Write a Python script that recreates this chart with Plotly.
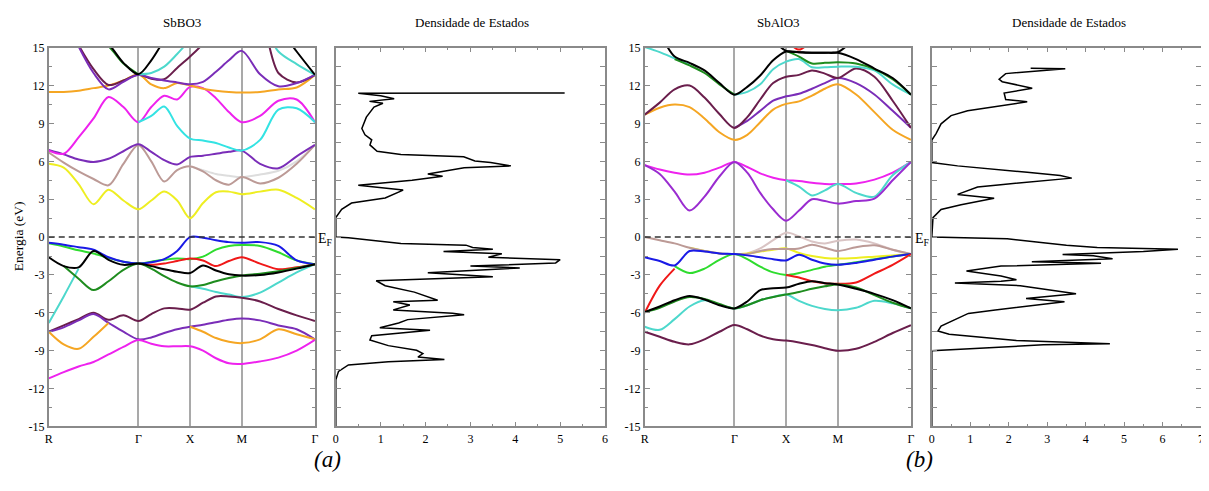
import plotly.graph_objects as go

# ---------------- k-path (R - Gamma - X - M - Gamma) ----------------
K = [0.0, 0.289, 0.577, 0.866, 1.155, 1.443, 1.732,
     1.982, 2.232, 2.482, 2.732,
     2.982, 3.232, 3.482, 3.732,
     4.085, 4.439, 4.792, 5.146]
KTICKS = [0.0, 1.732, 2.732, 3.732, 5.146]
KLABELS = ["R", "Γ", "X", "M", "Γ"]
N = None

# ---------------- SbBO3 bands (eV) ----------------
A_GREY = [N]*10 + [5.6, 5.3, 5.0, 4.85, 4.75, 4.95, 5.25, 6.0, 7.3]
A_BROWN = [6.7, 5.9, 5.2, 4.6, 4.1, 5.8, 7.3, 6.0, 4.4, 5.3, 5.6, 5.2, 4.5, 4.15, 4.75, 4.25, 4.7, 5.8, 7.3]
A_YELLOW = [5.8, 5.5, 4.2, 2.6, 3.75, 2.9, 2.2, 2.9, 3.6, 2.9, 1.5, 2.7, 3.55, 3.6, 3.4, 3.6, 3.75, 3.1, 2.2]
A_INDIGO = [6.9, 6.55, 6.15, 5.95, 6.2, 6.8, 7.35, 6.75, 6.1, 5.75, 6.35, 6.45, 6.6, 6.75, 6.85, 5.8, 5.45, 6.4, 7.3]
A_MAGENTA_C = [6.85, 6.6, 7.9, 9.4, 11.1, 10.3, 9.1, 10.3, 11.2, 10.9, 11.9, 11.8, 11.0, 9.9, 9.1, 9.6, 10.8, 10.9, 9.1]
A_CYAN_C = [N]*6 + [9.1, 9.6, 10.35, 8.8, 7.8, 7.65, 7.45, 7.1, 6.85, 7.7, 10.1, 10.2, 9.1]
A_ORANGE_C = [11.5, 11.5, 11.6, 11.8, 12.0, 12.4, 12.9, 12.1, 11.8, 12.2, 12.0, 11.75, 11.6, 11.5, 11.45, 11.5, 11.7, 11.85, 12.85]
A_MAROON_C = [N, N, 15.2, 13.3, 12.05, 12.4, 12.85, 12.55, 12.5, 13.4, 14.3, 15.3, 16.5, 17, 17, 17, 13.0, 12.25, 12.85]
A_VIOLET_C = [N, N, 15.1, 13.0, 11.7, 12.3, 12.85, 12.6, 12.4, 12.25, 12.1, 12.3, 13.1, 14.0, 14.75, 12.9, 11.95, 12.2, 12.85]
A_CYAN_U = [N]*6 + [12.9, 13.0, 13.5, 14.5, 15.6, 16.5, 17, 17, 17, 17, 14.7, 13.7, 12.85]
A_GREEN_U = [18.5, 17.5, 16.5, 15.7, 15.1, 13.75, 12.9] + [N]*12
A_BLACK_U = [19, 18, 17, 16.2, 15.3, 13.8, 12.9, 14.0, 15.6, 17, 18, 18, 18, 18, 18, 18, 16.6, 14.7, 12.85]

A_BLUE = [-0.45, -0.6, -0.8, -1.0, -1.6, -1.95, -2.1, -2.0, -1.75, -1.1, 0.0, -0.05, -0.25, -0.4, -0.45, -0.4, -0.7, -1.85, -2.15]
A_LGREEN = [-0.5, -0.75, -1.05, -1.3, -1.65, -1.95, -2.1, -1.95, -1.8, -1.7, -1.75, -1.55, -1.0, -0.7, -0.62, -0.7, -1.2, -1.85, -2.15]
A_RED = [N]*6 + [-2.1, -2.2, -2.1, -1.9, -1.7, -1.85, -2.3, -1.9, -1.6, -2.1, -2.55, -2.4, -2.15]
A_CYAN_V = [-6.8, -4.7, -2.5] + [N]*7 + [-3.9, -4.1, -4.35, -4.55, -4.75, -4.4, -3.6, -2.8, -2.15]
A_DGREEN = [N, -2.3, -3.3, -4.2, -3.5, -2.6, -2.1, -2.5, -3.1, -3.6, -3.9, -3.8, -3.5, -3.25, -3.05, -2.9, -2.7, -2.45, -2.15]
A_BLACK_V = [-1.6, -2.3, -2.4, -1.1, -1.8, -2.2, -2.1, -2.3, -2.55, -2.75, -2.85, -2.25, -2.65, -2.95, -3.05, -3.0, -2.8, -2.5, -2.15]
A_MAROON_V = [-7.5, -7.0, -6.5, -6.0, -6.55, -6.2, -6.65, -6.1, -5.65, -5.65, -5.75, -5.2, -4.7, -4.7, -4.8, -5.1, -5.7, -6.2, -6.65]
A_INDIGO_V = [-7.5, -7.15, -6.6, -6.1, -6.8, -7.5, -8.1, -7.95, -7.6, -7.3, -7.1, -6.95, -6.75, -6.55, -6.45, -6.6, -7.0, -7.3, -8.1]
A_ORANGE_V = [-7.5, -8.5, -8.85, -7.9, -6.8] + [N]*5 + [-7.1, -7.5, -8.0, -8.3, -8.4, -8.1, -7.3, -7.7, -8.1]
A_MAGENTA_V = [-11.2, -10.7, -10.25, -9.9, -9.3, -8.7, -8.15, -8.45, -8.65, -8.65, -8.65, -9.0, -9.6, -10.0, -10.05, -9.85, -9.55, -9.0, -8.15]

# ---------------- SbAlO3 bands (eV) ----------------
B_MAGENTA_C = [5.7, 5.35, 5.1, 4.95, 5.1, 5.5, 5.95, 5.55, 5.05, 4.7, 4.5, 4.45, 4.3, 4.2, 4.2, 4.25, 4.55, 5.1, 5.95]
B_CYAN_C = [N]*10 + [4.5, 4.0, 3.3, 3.7, 4.2, 3.5, 3.2, 4.9, 5.95]
B_VIOLET_C = [5.7, 5.0, 3.6, 2.1, 3.2, 4.8, 5.95, 5.1, 3.5, 2.2, 1.3, 2.1, 3.0, 2.85, 2.65, 2.85, 3.05, 4.5, 5.95]
B_ORANGE_C = [9.7, 10.25, 10.5, 10.3, 9.4, 8.3, 7.7, 8.1, 9.1, 10.1, 10.55, 10.75, 11.2, 11.75, 12.1, 11.3, 9.9, 8.5, 7.7]
B_INDIGO_C = [N]*6 + [8.65, 9.2, 10.0, 10.8, 11.15, 11.35, 11.75, 12.2, 12.6, 12.2, 11.3, 10.0, 8.65]
B_MAROON_C = [9.7, 10.65, 11.7, 12.0, 11.05, 9.75, 8.65, 9.5, 10.9, 12.2, 12.7, 12.85, 13.2, 12.95, 12.6, 13.35, 12.7, 10.8, 8.65]
B_CYAN_U = [15.05, 14.65, 14.15, 13.65, N, N, 11.28, 11.5, 12.1, 13.3, 13.9, 14.1, 13.45, 13.45, 13.5, 13.5, 13.2, 12.1, 11.28]
B_GREEN_U = [N, N, 14.1, 13.6, 13.0, 12.1, 11.28, N, N, N, 14.75, 14.3, 13.75, 13.8, 13.85, 13.75, 13.3, 12.5, 11.28]
B_BLACK_U = [17, 16, 14.3, 13.8, 13.2, 12.2, 11.28, 11.9, 12.8, 14.0, 14.7, 14.65, 14.6, 14.6, 14.6, 14.1, 13.35, 12.6, 11.28]
B_BLACK_U2 = [N]*9 + [15.6, 14.75, 14.65, 14.6, 14.6, 14.65, 15.8, 17, N, N]
B_RED_U = [N]*10 + [15.6, 14.85, 15.6] + [N]*6

B_LTAUPE = [N]*7 + [-1.3, -0.9, -0.25, 0.35, 0.05, -0.35, -0.5, -0.3, -0.2, -0.5, -1.0, -1.35]
B_YELLOW = [N, N, N, -0.85, -1.1, -1.3, -1.35, -1.3, -1.15, -1.0, -0.9, -1.25, -1.5, -1.65, -1.7, -1.65, -1.55, -1.45, -1.35]
B_TAUPE = [0.0, -0.25, -0.5, -0.85, -1.1, -1.3, -1.35, -1.35, -1.1, -0.95, -0.95, -0.9, -0.6, -0.85, -1.1, -0.8, -0.65, -1.0, -1.35]
B_BLUE = [-1.6, -1.9, -2.25, -1.1, -1.15, -1.3, -1.35, -1.45, -1.6, -1.75, -1.85, -1.4, -1.8, -2.1, -2.2, -2.05, -1.8, -1.55, -1.35]
B_LGREEN = [N, N, -2.3, -2.85, -2.5, -1.8, -1.35, -1.75, -2.35, -2.8, -3.0, -2.85, -2.6, -2.35, -2.2, -2.0, -1.75, -1.55, -1.35]
B_RED = [-6.0, -3.85, -2.5] + [N]*7 + [-3.0, -3.2, -3.5, -3.65, -3.7, -3.6, -2.9, -2.2, -1.35]
B_CYAN_V = [-7.1, -7.35, -6.5, -5.5, -5.0, -5.35, -5.65, -5.4, -5.0, -4.75, -4.55, -5.05, -5.45, -5.7, -5.8, -5.6, -5.05, -5.25, -5.65]
B_DGREEN = [-5.95, -5.6, -5.1, -4.75, -4.9, -5.3, -5.65, -5.4, -5.0, -4.75, -4.55, -4.35, -4.1, -3.9, -3.75, -4.0, -4.6, -5.2, -5.65]
B_BLACK_V = [-5.95, -5.5, -5.0, -4.67, -4.95, -5.4, -5.65, -5.1, -4.2, -4.05, -4.0, -3.7, -3.5, -3.65, -3.75, -4.1, -4.5, -5.0, -5.65]
B_MAROON_V = [-7.5, -7.9, -8.3, -8.5, -8.1, -7.5, -6.97, -7.3, -7.8, -8.1, -8.2, -8.35, -8.55, -8.8, -9.0, -8.85, -8.3, -7.6, -6.97]

# ---------------- Densities of states ----------------
DOS_A_E = [11.42, 11.40, 11.2, 10.95, 10.75, 10.6, 10.3, 9.5, 8.6, 8.1, 7.7, 7.3, 6.8, 6.55, 6.36,
           6.03, 5.9, 5.64, 5.5, 5.26, 5.0, 4.82, 4.5, 4.1, 3.72, 3.1, 2.7, 2.2, 1.55, 0.0,
           -0.05, -0.5, -0.64, -0.82, -0.97, -1.15, -1.33, -1.6, -1.79, -2.05, -2.3, -2.45,
           -2.82, -3.15, -3.46, -3.85, -4.36, -5.0, -5.13, -5.38, -5.77, -6.03, -6.15, -6.54,
           -6.8, -7.18, -7.38, -7.82, -8.15, -8.6, -8.97, -9.23, -9.5, -9.7, -9.87, -10.13,
           -10.64, -11.3, -15.0]
DOS_A_D = [5.1, 0.5, 1.0, 1.3, 0.75, 1.05, 0.85, 0.68, 0.58, 0.65, 0.8, 0.76, 0.92, 1.45, 2.85,
           3.1, 3.45, 3.9, 2.86, 2.5, 2.05, 2.38, 1.7, 0.5, 1.5, 1.1, 0.35, 0.13, 0.0, 0.0,
           0.28, 1.45, 2.9, 3.05, 3.5, 2.4, 3.7, 3.4, 5.0, 4.9, 3.0, 4.1,
           2.05, 3.5, 0.9, 1.1, 1.75, 2.27, 1.28, 1.65, 1.28, 2.6, 2.86, 1.6,
           1.4, 0.98, 2.1, 0.8, 0.76, 1.17, 1.8, 1.94, 1.83, 2.42, 1.17, 0.28,
           0.06, 0.0, 0.0]

DOS_B_E = [13.38, 13.33, 12.95, 12.5, 12.31, 11.79, 11.41, 10.9, 10.72, 10.38, 10.0, 9.62, 8.97,
           8.2, 7.69, 5.9, 5.64, 5.13, 4.87, 4.67, 4.36, 4.15, 3.97, 3.38, 3.08, 2.56, 2.18,
           1.54, 0.0, -0.13, -0.45, -0.64, -0.82, -0.9, -0.97, -1.15, -1.38, -1.48, -1.72,
           -1.95, -2.08, -2.3, -2.69, -3.08, -3.38, -3.5, -3.64, -3.85, -4.49, -4.87, -5.13,
           -5.77, -6.05, -7.05, -7.44, -7.69, -8.2, -8.46, -8.54, -9.0, -15.0]
DOS_B_D = [2.57, 3.47, 1.92, 1.75, 1.83, 2.61, 1.88, 1.92, 2.48, 1.75, 0.93, 0.5, 0.24,
           0.11, 0.0, 0.0, 0.67, 2.48, 3.34, 3.64, 2.65, 1.79, 1.19, 0.67, 1.62, 0.76, 0.24,
           0.03, 0.0, 1.96, 2.9, 3.5, 4.3, 5.15, 6.4, 5.5, 3.4, 4.2, 4.7,
           2.6, 4.4, 1.8, 0.9, 1.8, 2.2, 1.8, 0.6, 2.3, 3.75, 2.45, 3.45,
           1.65, 0.95, 0.24, 0.16, 0.45, 2.2, 4.63, 2.9, 0.0, 0.0]

# ---------------- Tick labels ----------------
E_TICKS = [-15, -12, -9, -6, -3, 0, 3, 6, 9, 12, 15]
E_LABELS = ["-15", "-12", "-9", "-6", "-3", "0", "3", "6", "9", "12", "15"]
E_MINOR = [-13.5, -10.5, -7.5, -4.5, -1.5, 1.5, 4.5, 7.5, 10.5, 13.5]

# xmgrace-like colours
C = dict(black="#000000", red="#F01818", green="#2EDC2E", blue="#1A1AE6", yellow="#EEEE22",
         brown="#BC9A96", grey="#DDDDDD", violet="#9A2CD0", cyan="#33E3E3", magenta="#EE22EE",
         orange="#F5A623", indigo="#7A2DB8", maroon="#6A1E4C", turq="#4DD8CC", green4="#1E8C1E",
         ltaupe="#D9C4C4")

A_BANDS = [
    (A_GREY, C["grey"]), (A_BROWN, C["brown"]), (A_YELLOW, C["yellow"]), (A_INDIGO, C["indigo"]),
    (A_MAGENTA_C, C["magenta"]), (A_CYAN_C, C["cyan"]), (A_ORANGE_C, C["orange"]),
    (A_MAROON_C, C["maroon"]), (A_VIOLET_C, C["indigo"]), (A_CYAN_U, C["turq"]),
    (A_GREEN_U, C["green4"]), (A_BLACK_U, C["black"]),
    (A_CYAN_V, C["turq"]), (A_LGREEN, C["green"]), (A_RED, C["red"]), (A_BLUE, C["blue"]),
    (A_DGREEN, C["green4"]), (A_BLACK_V, C["black"]), (A_MAROON_V, C["maroon"]),
    (A_INDIGO_V, C["indigo"]), (A_ORANGE_V, C["orange"]), (A_MAGENTA_V, C["magenta"]),
]
B_BANDS = [
    (B_MAGENTA_C, C["magenta"]), (B_CYAN_C, C["turq"]), (B_VIOLET_C, C["violet"]),
    (B_ORANGE_C, C["orange"]), (B_INDIGO_C, C["indigo"]), (B_MAROON_C, C["maroon"]),
    (B_CYAN_U, C["turq"]), (B_GREEN_U, C["green4"]), (B_BLACK_U, C["black"]),
    (B_BLACK_U2, C["black"]), (B_RED_U, C["red"]),
    (B_LTAUPE, C["ltaupe"]), (B_YELLOW, C["yellow"]), (B_TAUPE, C["brown"]),
    (B_LGREEN, C["green"]), (B_BLUE, C["blue"]), (B_RED, C["red"]),
    (B_CYAN_V, C["turq"]), (B_DGREEN, C["green4"]), (B_BLACK_V, C["black"]),
    (B_MAROON_V, C["maroon"]),
]

FONT = "Liberation Serif"
FRAME = "#8a8a8a"
# page is 1209x491; the browser body has an 8px margin, so the figure is 8px smaller
OFF = 8
W, H = 1209 - OFF, 491 - OFF


def px_x(p):
    return (p - OFF) / W


def px_y(p):
    return 1 - (p - OFF) / H


YDOM = [px_y(431.7), px_y(41.7)]
XD = {
    1: [px_x(45), px_x(313)],
    2: [px_x(334), px_x(605)],
    3: [px_x(645), px_x(913)],
    4: [px_x(934), px_x(1205)],
}

fig = go.Figure()


def add_bands(bands, ax):
    for vals, col in bands:
        fig.add_trace(go.Scatter(
            x=K, y=vals, mode="lines", xaxis="x" + ax, yaxis="y" + ax,
            line=dict(color=col, width=2, shape="spline", smoothing=0.9),
            hoverinfo="skip", showlegend=False))


add_bands(A_BANDS, "")
add_bands(B_BANDS, "3")

fig.add_trace(go.Scatter(x=DOS_A_D, y=DOS_A_E, mode="lines", xaxis="x2", yaxis="y2",
                         line=dict(color="black", width=1.5), hoverinfo="skip", showlegend=False))
fig.add_trace(go.Scatter(x=DOS_B_D, y=DOS_B_E, mode="lines", xaxis="x4", yaxis="y4",
                         line=dict(color="black", width=1.5), hoverinfo="skip", showlegend=False))

tickfont = dict(family=FONT, size=12, color="black")


def band_x(dom):
    return dict(domain=dom, range=[0, 5.146], tickvals=KTICKS, ticktext=KLABELS,
                showgrid=True, gridcolor="#a9a9a9", gridwidth=2, ticks="",
                showline=True, linecolor=FRAME, linewidth=1.5, mirror=True,
                zeroline=False, tickfont=tickfont, fixedrange=True)


def band_y(dom, anchor):
    return dict(domain=dom, anchor=anchor, range=[-15, 15], tickvals=E_TICKS, ticktext=E_LABELS,
                ticks="inside", ticklen=5, tickwidth=1, tickcolor=FRAME,
                minor=dict(tickvals=E_MINOR, ticks="inside", ticklen=3, tickcolor=FRAME, showgrid=False),
                showline=True, linecolor=FRAME, linewidth=1.5, mirror="ticks",
                zeroline=False, showgrid=False, tickfont=tickfont, fixedrange=True)


def dos_x(dom, xmax, anchor):
    return dict(domain=dom, anchor=anchor, range=[0, xmax], tick0=0, dtick=1,
                ticks="inside", ticklen=5, tickcolor=FRAME,
                minor=dict(dtick=0.5, ticks="inside", ticklen=3, tickcolor=FRAME, showgrid=False),
                showline=True, linecolor=FRAME, linewidth=1.5, mirror="ticks",
                zeroline=False, showgrid=False, tickfont=tickfont, fixedrange=True)


def dos_y(dom, anchor):
    return dict(domain=dom, anchor=anchor, range=[-15, 15], tick0=0, dtick=1.5,
                ticks="inside", ticklen=5, tickcolor=FRAME, showticklabels=False,
                showline=True, linecolor=FRAME, linewidth=1.5, mirror="ticks",
                zeroline=False, showgrid=False, fixedrange=True)


fig.update_layout(
    width=W, height=H, margin=dict(l=0, r=0, t=0, b=0),
    paper_bgcolor="white", plot_bgcolor="white",
    font=dict(family=FONT, color="black"),
    xaxis=dict(band_x(XD[1]), anchor="y"),
    yaxis=band_y(YDOM, "x"),
    xaxis2=dos_x(XD[2], 6, "y2"),
    yaxis2=dos_y(YDOM, "x2"),
    xaxis3=dict(band_x(XD[3]), anchor="y3"),
    yaxis3=band_y(YDOM, "x3"),
    xaxis4=dos_x(XD[4], 7, "y4"),
    yaxis4=dos_y(YDOM, "x4"),
)

# Fermi level dashed lines
for ax, ay in [("x", "y"), ("x3", "y3")]:
    fig.add_shape(type="line", xref=ax + " domain", yref=ay,
                  x0=0, x1=1, y0=0, y1=0,
                  line=dict(color="#333333", width=1.5, dash="6px,4px"))

ann = []


def text(x, y, s, size=13, xanchor="center", yanchor="middle", **kw):
    ann.append(dict(x=px_x(x), y=px_y(y), xref="paper", yref="paper", text=s, showarrow=False,
                    xanchor=xanchor, yanchor=yanchor,
                    font=dict(family=FONT, size=size, color="black"), **kw))


text(179, 16, "SbBO3")
text(471, 16, "Densidade de Estados")
text(780, 16, "SbAlO3")
text(1072, 16, "Densidade de Estados")
text(314, 239, "E<sub>F</sub>", size=14, xanchor="left")
text(915, 239, "E<sub>F</sub>", size=14, xanchor="left")
text(14, 236, "Energia (eV)", size=13.5, textangle=-90)
text(326, 466, "<i>(a)</i>", size=23)
text(922, 466, "<i>(b)</i>", size=23)
fig.update_layout(annotations=ann)

fig.write_html("out.html")
